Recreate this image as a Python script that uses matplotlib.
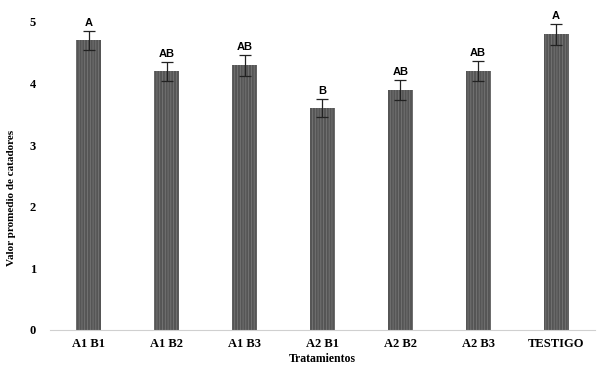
import matplotlib
matplotlib.use('Agg')
import matplotlib.pyplot as plt

# data
tratamientos = ['A1 B1', 'A1 B2', 'A1 B3', 'A2 B1', 'A2 B2', 'A2 B3', 'TESTIGO']
valores = [4.7, 4.2, 4.3, 3.6, 3.9, 4.2, 4.8]
errores = [0.16, 0.15, 0.17, 0.15, 0.16, 0.16, 0.17]
letras = ['A', 'AB', 'AB', 'B', 'AB', 'AB', 'A']

plt.rcParams['hatch.linewidth'] = 0.5

fig = plt.figure(figsize=(5.98, 3.73), dpi=100)
ax = fig.add_axes([50/598, 1-330/373, 545/598, 308/373])

x = range(len(tratamientos))
ax.bar(x, valores, width=0.32, color='#555555', hatch='||||||', edgecolor='#7c7c7c', linewidth=0)
ax.errorbar(x, valores, yerr=errores, fmt='none', ecolor='#222222', elinewidth=0.9, capsize=4, capthick=0.9)

# letters of significance above the error bars
for i in x:
    ax.text(i, valores[i] + errores[i] + 0.05, letras[i], ha='center', va='bottom',
            fontsize=8, fontweight='bold', family='Liberation Sans')

ax.set_xlim(-0.5, 6.5)
ax.set_ylim(0, 5)
ax.set_xticks(list(x))
ax.set_xticklabels(tratamientos, fontsize=9, fontweight='bold', family='Liberation Serif')
ax.set_yticks([0, 1, 2, 3, 4, 5])
ax.set_yticklabels(['0', '1', '2', '3', '4', '5'], fontsize=9, fontweight='bold', family='Liberation Serif')
ax.tick_params(axis='x', length=0, pad=6)
ax.tick_params(axis='y', length=0, pad=10)

for s in ['top', 'right', 'left']:
    ax.spines[s].set_visible(False)
ax.spines['bottom'].set_color('#d0d0d0')
ax.spines['bottom'].set_linewidth(0.8)

ax.set_xlabel('Tratamientos', fontsize=8.5, fontweight='bold', family='Liberation Serif', labelpad=2)
ax.set_ylabel('Valor promedio de catadores', fontsize=8, fontweight='bold', family='Liberation Serif')
ax.yaxis.set_label_coords(-0.062, 0.43)

fig.savefig('out.png', dpi=100)
